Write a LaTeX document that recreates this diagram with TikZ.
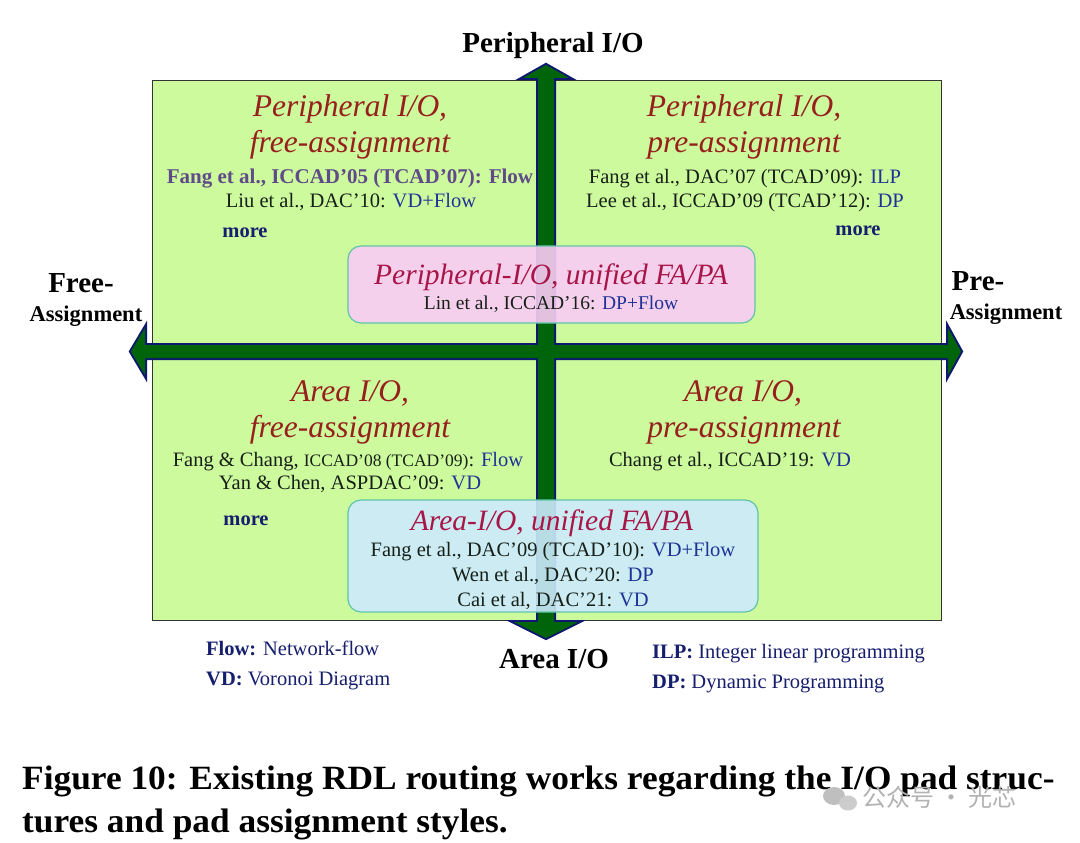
\documentclass[tikz,border=0pt]{standalone}
\usepackage{fontspec}
\setmainfont{Liberation Serif}
\newfontfamily\cjk{Noto Sans CJK SC}
\usepackage{graphicx}
\definecolor{quadgreen}{RGB}{206,250,158}
\definecolor{titlered}{RGB}{150,32,28}
\definecolor{boxred}{RGB}{168,22,72}
\definecolor{bodyc}{RGB}{22,32,24}
\definecolor{methblue}{RGB}{32,50,150}
\definecolor{purp}{RGB}{95,75,135}
\definecolor{navyc}{RGB}{22,30,110}
\definecolor{arrgreen}{RGB}{0,100,10}
\definecolor{arrnavy}{RGB}{14,24,110}
\definecolor{pinkf}{RGB}{250,204,246}
\definecolor{bluef}{RGB}{204,234,252}
\definecolor{tealb}{RGB}{96,196,170}
\begin{document}
\begin{tikzpicture}[x=1pt,y=-1pt,
  ttl/.style={font=\fontsize{31.5}{31.5}\selectfont\itshape, text=titlered, inner sep=0pt, anchor=base},
  bttl/.style={font=\fontsize{29.5}{29.5}\selectfont\itshape, text=boxred, inner sep=0pt, anchor=base},
  body/.style={font=\fontsize{20.5}{20.5}\selectfont, text=bodyc, inner sep=0pt, anchor=base},
  morec/.style={font=\fontsize{20.5}{20.5}\selectfont\bfseries, text=navyc, inner sep=0pt, anchor=base},
  axis/.style={font=\fontsize{29}{29}\selectfont\bfseries, text=black, inner sep=0pt, anchor=base},
  axsmall/.style={font=\fontsize{22.5}{22.5}\selectfont\bfseries, text=black, inner sep=0pt, anchor=base},
  legend/.style={font=\fontsize{20.5}{20.5}\selectfont, text=navyc, inner sep=0pt, anchor=base west},
  captxt/.style={inner sep=0pt, anchor=base west, font=\fontsize{34}{34}\selectfont\bfseries},
  unibox/.style={draw=tealb, line width=1.2pt, rounded corners=13pt, fill opacity=0.9, inner sep=0pt}
]
\useasboundingbox (0,0) rectangle (1080,843);
\fill[white] (0,0) rectangle (1080,843);

% quadrant field
\node[draw=black!80, line width=1pt, fill=quadgreen, minimum width=789pt, minimum height=539pt, inner sep=0pt] (field) at (546.5,350.5) {};

% axis arrows: outline first, then fill to merge the cross
\def\harrow{(131,351.5) -- (145,328) -- (145,345) -- (948,345) -- (948,328) -- (961,351.5) -- (948,375) -- (948,358) -- (145,358) -- (145,375) -- cycle}
\def\varrow{(546,65) -- (569,78) -- (554,78) -- (554,622) -- (578,622) -- (546,638) -- (514,622) -- (538,622) -- (538,78) -- (523,78) -- cycle}
\draw[arrnavy, line width=4pt, line join=miter] \harrow;
\draw[arrnavy, line width=4pt, line join=miter] \varrow;
\fill[arrgreen] \harrow;
\fill[arrgreen] \varrow;

% unified boxes
\node[unibox, fill=pinkf, minimum width=407pt, minimum height=77pt] (pinkbox) at (551.5,284.5) {};
\node[unibox, fill=bluef, minimum width=410pt, minimum height=112pt] (bluebox) at (553,556) {};

% axis labels
\node[axis] (ptop) at (553,53) {Peripheral I/O};
\node[axis] (abot) at (554,668) {Area I/O};
\node[axis] (free) at (81,292) {Free-};
\node[axsmall] (freea) at (86,321) {Assignment};
\node[axis] (pre) at (978,290) {Pre-};
\node[axsmall] (prea) at (1006,319) {Assignment};

% top-left quadrant
\node[ttl] (tl1) at (350,117) {Peripheral I/O,};
\node[ttl] (tl2) at (350,153) {free-assignment};
\node[body, font=\fontsize{21}{21}\selectfont\bfseries, text=purp] (tl3) at (350,183) {Fang et al., ICCAD’05 (TCAD’07): Flow};
\node[body] (tl4) at (351,207) {Liu et al., DAC’10: \textcolor{methblue}{VD+Flow}};
\node[morec] (tlm) at (245,237) {more};

% top-right quadrant
\node[ttl] (tr1) at (744,117) {Peripheral I/O,};
\node[ttl] (tr2) at (744,153) {pre-assignment};
\node[body] (tr3) at (745,183) {Fang et al., DAC’07 (TCAD’09): \textcolor{methblue}{ILP}};
\node[body] (tr4) at (745,207) {Lee et al., ICCAD’09 (TCAD’12): \textcolor{methblue}{DP}};
\node[morec] (trm) at (858,235) {more};

% pink box text
\node[bttl] (pk1) at (551,284) {Peripheral-I/O, unified FA/PA};
\node[body, font=\fontsize{19.5}{19.5}\selectfont] (pk2) at (551,309) {Lin et al., ICCAD’16: \textcolor{methblue}{DP+Flow}};

% bottom-left quadrant
\node[ttl] (bl1) at (350,401) {Area I/O,};
\node[ttl] (bl2) at (350,437) {free-assignment};
\node[body] (bl3) at (348,466) {Fang \& Chang, {\fontsize{17.5}{17.5}\selectfont ICCAD’08 (TCAD’09)}: \textcolor{methblue}{Flow}};
\node[body] (bl4) at (350,489) {Yan \& Chen, ASPDAC’09: \textcolor{methblue}{VD}};
\node[morec] (blm) at (246,525) {more};

% bottom-right quadrant
\node[ttl] (br1) at (743,401) {Area I/O,};
\node[ttl] (br2) at (744,437) {pre-assignment};
\node[body] (br3) at (730,466) {Chang et al., ICCAD’19: \textcolor{methblue}{VD}};

% blue box text
\node[bttl] (bb1) at (552,530) {Area-I/O, unified FA/PA};
\node[body] (bb2) at (553,556) {Fang et al., DAC’09 (TCAD’10): \textcolor{methblue}{VD+Flow}};
\node[body] (bb3) at (553,581) {Wen et al., DAC’20: \textcolor{methblue}{DP}};
\node[body] (bb4) at (553,606) {Cai et al, DAC’21: \textcolor{methblue}{VD}};

% legend
\node[legend] (lg1) at (206,655) {\textbf{Flow:} Network-flow};
\node[legend] (lg2) at (206,685) {\textbf{VD:} Voronoi Diagram};
\node[legend] (lg3) at (652,658) {\textbf{ILP:} Integer linear programming};
\node[legend] (lg4) at (652,688) {\textbf{DP:} Dynamic Programming};

% caption
\node[captxt] (cap1) at (22,789) {\scalebox{1.04}[1]{Figure 10: Existing RDL routing works regarding the I/O pad struc-}};
\node[captxt] (cap2) at (22,832) {\scalebox{1.04}[1]{tures and pad assignment styles.}};

% watermark
\node[inner sep=0pt, anchor=base west, text=black!30, font=\cjk\fontsize{24}{24}\selectfont] (wm) at (862,806) {公众号 · 光芯};
\fill[black!25] (834,796) ellipse (11pt and 9pt);
\fill[black!20] (848,803) ellipse (9pt and 7.5pt);
\end{tikzpicture}
\end{document}
